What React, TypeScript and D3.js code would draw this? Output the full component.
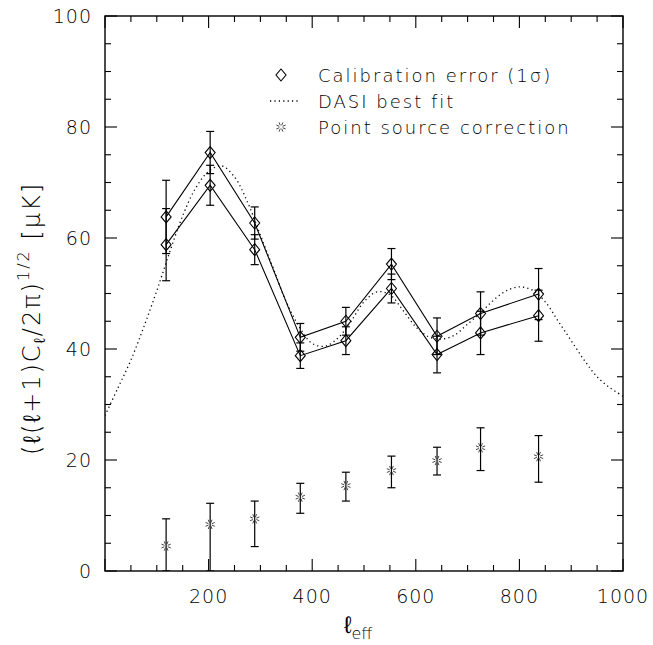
import React from "react";
import * as d3 from "d3";

// ---- data ----
const ellEff = [118, 203, 289, 377, 465, 553, 641, 725, 837];
const upperBand = [63.8, 75.4, 62.7, 42.1, 45.0, 55.3, 42.3, 46.4, 49.9];
const upperErr = [6.6, 3.8, 2.9, 2.5, 2.5, 2.8, 3.3, 3.9, 4.6];
const lowerBand = [58.8, 69.5, 57.9, 38.8, 41.5, 50.9, 39.0, 42.9, 46.0];
const lowerErr = [6.5, 3.6, 2.7, 2.3, 2.5, 2.6, 3.3, 3.9, 4.6];
const psValue = [4.5, 8.4, 9.4, 13.3, 15.4, 18.1, 19.9, 22.2, 20.6];
const psLow = [0, 0, 4.4, 10.4, 12.6, 15.0, 17.3, 18.1, 16.0];
const psHigh = [9.4, 12.2, 12.6, 15.8, 17.8, 20.7, 22.3, 25.8, 24.4];
const fitEll = [0, 25, 50, 75, 100, 125, 150, 175, 200, 225, 250, 275, 300, 325, 350, 375, 400, 425, 450, 475, 500, 525, 550, 575, 600, 625, 650, 675, 700, 725, 750, 775, 800, 825, 850, 875, 900, 925, 950, 975, 1000];
const fitValue = [28, 33, 38, 44, 50.5, 57.5, 64, 69, 72, 73, 71, 66.5, 60.5, 54.5, 48.5, 44, 41, 40.5, 42, 45, 48.5, 50.3, 49.8, 47, 44, 42.2, 41.8, 42.5, 44.5, 46.5, 48.8, 50.5, 51.2, 50.6, 48.5, 45, 41.5, 38, 35, 33, 31.5];
const xTickLabels = ["200", "400", "600", "800", "1000"];
const yTickLabels = ["0", "20", "40", "60", "80", "100"];
const legendLabels = ["Calibration error (1\u03c3)", "DASI best fit", "Point source correction"];

const W = 653, H = 645;
const L = 105, R = 623, T = 16, B = 571;
const FONT = "'DejaVu Sans', sans-serif";
const TXT = "#000";

function Diamond({ cx, cy }: { cx: number; cy: number }) {
  const a = 5, b = 6;
  return <path d={`M${cx},${cy - b}L${cx + a},${cy}L${cx},${cy + b}L${cx - a},${cy}Z`} fill="none" stroke="#000" strokeWidth={1.1} />;
}

function Star({ cx, cy }: { cx: number; cy: number }) {
  const segs = d3.range(8).map((i) => {
    const ang = (Math.PI / 4) * i + Math.PI / 8;
    const r1 = 1.8, r2 = 5;
    return `M${cx + r1 * Math.cos(ang)},${cy + r1 * Math.sin(ang)}L${cx + r2 * Math.cos(ang)},${cy + r2 * Math.sin(ang)}`;
  });
  return <path d={segs.join("")} stroke="#444" strokeWidth={1} fill="none" />;
}

function ErrBar({ x, y0, y1 }: { x: number; y0: number; y1: number }) {
  const c = 4;
  return (
    <g stroke="#000" strokeWidth={1.2}>
      <line x1={x} x2={x} y1={y0} y2={y1} />
      <line x1={x - c} x2={x + c} y1={y0} y2={y0} />
      <line x1={x - c} x2={x + c} y1={y1} y2={y1} />
    </g>
  );
}

export default function App() {
  const x = d3.scaleLinear().domain([0, 1000]).range([L, R]);
  const y = d3.scaleLinear().domain([0, 100]).range([B, T]);

  const upperPath = d3.line<number>().x((_, i) => x(ellEff[i])).y((v) => y(v))(upperBand)!;
  const lowerPath = d3.line<number>().x((_, i) => x(ellEff[i])).y((v) => y(v))(lowerBand)!;
  const fitPath = d3.line<number>().x((_, i) => x(fitEll[i])).y((v) => y(v)).curve(d3.curveCatmullRom)(fitValue)!;

  const xMinor = d3.range(0, 1001, 50);
  const yMinor = d3.range(0, 101, 5);

  return (
    <svg width={W} height={H} style={{ position: "absolute", left: 0, top: 0, background: "#fff" }} fontFamily={FONT} fontWeight={200}>
      <defs>
        <clipPath id="plot">
          <rect x={L} y={T} width={R - L} height={B - T} />
        </clipPath>
      </defs>
      <rect width={W} height={H} fill="#fff" />

      {/* ticks */}
      <g stroke="#000" strokeWidth={1.1}>
        {xMinor.map((v) => {
          const len = v % 200 === 0 ? 12 : 6;
          return (
            <g key={"x" + v}>
              <line x1={x(v)} x2={x(v)} y1={B} y2={B - len} />
              <line x1={x(v)} x2={x(v)} y1={T} y2={T + len} />
            </g>
          );
        })}
        {yMinor.map((v) => {
          const len = v % 20 === 0 ? 12 : 6;
          return (
            <g key={"y" + v}>
              <line x1={L} x2={L + len} y1={y(v)} y2={y(v)} />
              <line x1={R} x2={R - len} y1={y(v)} y2={y(v)} />
            </g>
          );
        })}
      </g>
      <rect x={L} y={T} width={R - L} height={B - T} fill="none" stroke="#000" strokeWidth={1.4} />

      {/* tick labels */}
      <g fontSize={19} fill={TXT} letterSpacing={1}>
        {xTickLabels.map((t) => (
          <text key={t} x={x(+t)} y={B + 32} textAnchor="middle">{t}</text>
        ))}
        {yTickLabels.map((t) => (
          <text key={t} x={L - 13} y={y(+t) + 7} textAnchor="end">{t}</text>
        ))}
      </g>

      {/* axis titles */}
      <text x={358} y={633} fontSize={24} textAnchor="middle" fill={TXT}>
        <tspan>{"\u2113"}</tspan>
        <tspan fontSize={16} dy={6}>eff</tspan>
      </text>
      <text transform={`translate(40,${(T + B) / 2 + 25}) rotate(-90)`} textAnchor="middle" fontSize={24} fill={TXT} letterSpacing={2}>
        <tspan>{"(\u2113(\u2113+1)C"}</tspan>
        <tspan fontSize={16} dy={5}>{"\u2113"}</tspan>
        <tspan dy={-5}>{"/2\u03c0)"}</tspan>
        <tspan fontSize={16} dy={-11}>1/2</tspan>
        <tspan dy={11}>{" [\u03bcK]"}</tspan>
      </text>

      <g clipPath="url(#plot)">
        {/* best fit curve */}
        <path d={fitPath} fill="none" stroke="#000" strokeWidth={1.3} strokeDasharray="1.2,3.2" />

        {/* band power lines */}
        <path d={upperPath} fill="none" stroke="#000" strokeWidth={1.1} />
        <path d={lowerPath} fill="none" stroke="#000" strokeWidth={1.1} />

        {ellEff.map((l, i) => (
          <g key={"b" + i}>
            <ErrBar x={x(l)} y0={y(upperBand[i] - upperErr[i])} y1={y(upperBand[i] + upperErr[i])} />
            <ErrBar x={x(l)} y0={y(lowerBand[i] - lowerErr[i])} y1={y(lowerBand[i] + lowerErr[i])} />
            <Diamond cx={x(l)} cy={y(upperBand[i])} />
            <Diamond cx={x(l)} cy={y(lowerBand[i])} />
          </g>
        ))}

        {/* point source correction */}
        {ellEff.map((l, i) => (
          <g key={"p" + i}>
            <ErrBar x={x(l)} y0={y(psLow[i])} y1={y(psHigh[i])} />
            <Star cx={x(l)} cy={y(psValue[i])} />
          </g>
        ))}
      </g>

      {/* legend */}
      <g fontSize={18} fill={TXT} letterSpacing={2}>
        <Diamond cx={281} cy={75} />
        <text x={318} y={75 + 6.5}>{legendLabels[0]}</text>
        <line x1={270} x2={299} y1={101} y2={101} stroke="#000" strokeWidth={1.3} strokeDasharray="1.2,3.2" />
        <text x={318} y={101 + 6.5}>{legendLabels[1]}</text>
        <Star cx={281} cy={127} />
        <text x={318} y={127 + 6.5}>{legendLabels[2]}</text>
      </g>
    </svg>
  );
}
